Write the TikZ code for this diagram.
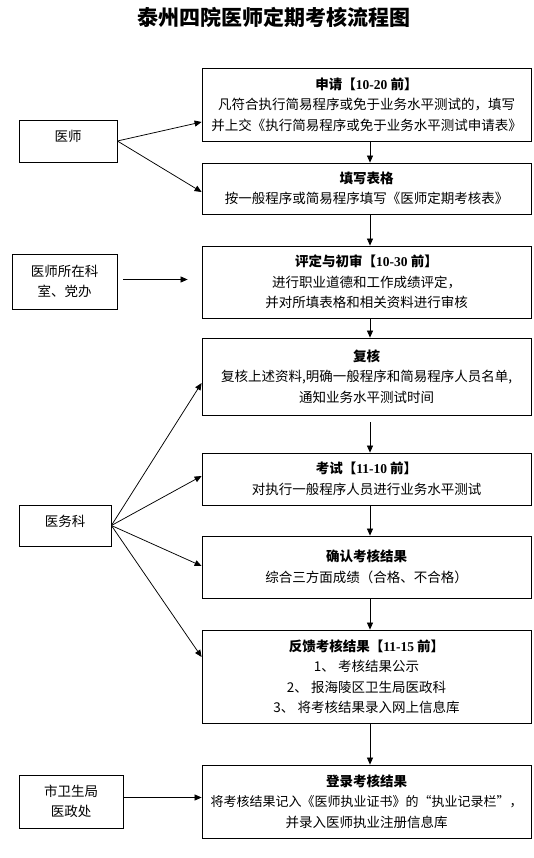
\documentclass[tikz,border=0pt]{standalone}
\usepackage{fontspec}
\setmainfont{Noto Sans CJK SC}
\newfontfamily\numfont{Liberation Serif}
\usetikzlibrary{arrows.meta}
\begin{document}
\begin{tikzpicture}[x=1pt,y=-1pt,
  box/.style={draw, line width=0.8pt, minimum width=329pt, inner sep=0pt, align=center,
    font=\fontsize{13.5}{20.5}\selectfont},
  side/.style={draw, line width=0.8pt, inner sep=0pt, align=center,
    font=\fontsize{13.5}{20}\selectfont},
  arr/.style={line width=0.75pt, -{Triangle[length=7pt,width=6pt]}}]
\useasboundingbox (0,0) rectangle (534,858);
\node[font=\fontsize{21}{24}\selectfont\bfseries] (title) at (274,17) {泰州四院医师定期考核流程图};

\node[box, minimum height=73pt] (b1) at (366.5,104.5)
  {\textbf{申请【{\numfont 10-20} 前】}\\凡符合执行简易程序或免于业务水平测试的，填写\\并上交《执行简易程序或免于业务水平测试申请表》};
\node[box, minimum height=51pt] (b2) at (366.5,188.5)
  {\textbf{填写表格}\\按一般程序或简易程序填写《医师定期考核表》};
\node[box, minimum height=72pt] (b3) at (366.5,282)
  {\textbf{评定与初审【{\numfont 10-30} 前】}\\进行职业道德和工作成绩评定，\\并对所填表格和相关资料进行审核};
\node[box, minimum height=77pt] (b4) at (366.5,376.5)
  {\textbf{复核}\\复核上述资料,明确一般程序和简易程序人员名单,\\通知业务水平测试时间};
\node[box, minimum height=52pt] (b5) at (366.5,479)
  {\textbf{考试【{\numfont 11-10} 前】}\\对执行一般程序人员进行业务水平测试};
\node[box, minimum height=62pt] (b6) at (366.5,567)
  {\textbf{确认考核结果}\\综合三方面成绩（合格、不合格）};
\node[box, minimum height=93pt] (b7) at (366.5,676.5)
  {\textbf{反馈考核结果【{\numfont 11-15} 前】}\\1、 考核结果公示\\2、 报海陵区卫生局医政科\\3、 将考核结果录入网上信息库};
\node[box, minimum height=73pt] (b8) at (366.5,801.5)
  {\textbf{登录考核结果}\\{\fontsize{13}{20.5}\selectfont 将考核结果记入《医师执业证书》的“执业记录栏”，}\\并录入医师执业注册信息库};

\node[side, minimum width=98pt, minimum height=42pt, text depth=11pt] (ys) at (68,141) {医师};
\node[side, minimum width=105pt, minimum height=55pt] (ks) at (64.5,281.5) {医师所在科\\室、党办};
\node[side, minimum width=92pt, minimum height=41pt, text depth=10pt] (ywk) at (65,525.5) {医务科};
\node[side, minimum width=104pt, minimum height=53pt] (wsj) at (71,801.5) {市卫生局\\医政处};

\draw[arr] (ys.east) -- ([yshift=-17.5pt]b1.west);
\draw[arr] (ys.east) -- ([yshift=-3.5pt]b2.west);
\draw[arr] ([xshift=6pt,yshift=2pt]ks.east) -- ([xshift=-14pt,yshift=2.5pt]b3.west);
\draw[arr] (ywk.east) -- ([yshift=-6.5pt]b4.west);
\draw[arr] (ywk.east) -- ([yshift=3pt]b5.west);
\draw[arr] (ywk.east) -- ([yshift=1pt]b6.west);
\draw[arr] (ywk.east) -- ([yshift=19.5pt]b7.west);
\draw[arr] ([yshift=4pt]wsj.east) -- ([yshift=4pt]b8.west);

\draw[arr] ([xshift=3.5pt]b1.south) -- ([xshift=3.5pt]b2.north);
\draw[arr] ([xshift=3.5pt]b2.south) -- ([xshift=3.5pt]b3.north);
\draw[arr] ([xshift=3.5pt]b3.south) -- ([xshift=3.5pt]b4.north);
\draw[arr] ([xshift=3.5pt,yshift=-7pt]b4.south) -- ([xshift=3.5pt]b5.north);
\draw[arr] ([xshift=3.5pt]b5.south) -- ([xshift=3.5pt]b6.north);
\draw[arr] ([xshift=3.5pt]b6.south) -- ([xshift=3.5pt]b7.north);
\draw[arr] ([xshift=3.5pt]b7.south) -- ([xshift=3.5pt]b8.north);
\end{tikzpicture}
\end{document}
